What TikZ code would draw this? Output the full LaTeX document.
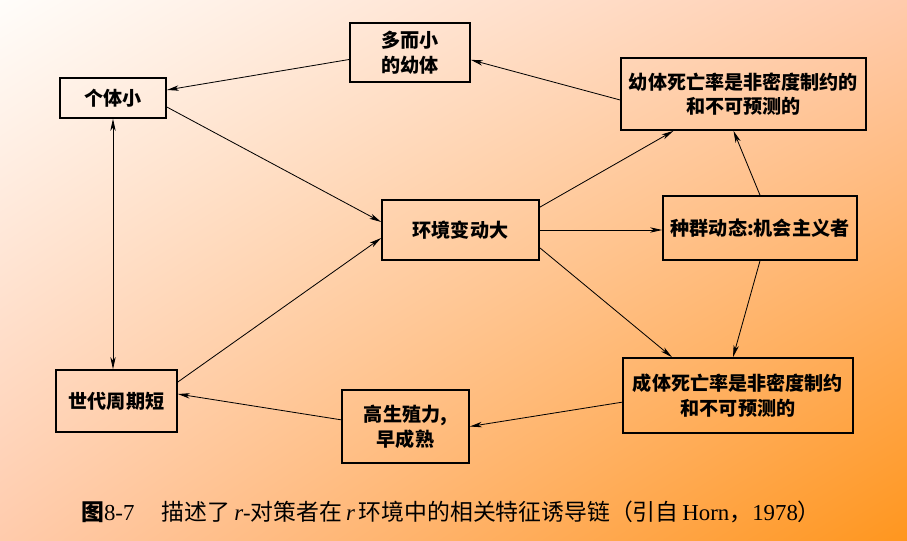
\documentclass[tikz,border=0pt]{standalone}
\usepackage{fontspec}
\usepackage{tikz}
\usetikzlibrary{arrows.meta,positioning,shadings}
\setmainfont{Liberation Serif}
\newfontfamily\cjk{Noto Sans CJK SC}
\definecolor{paperWhite}{RGB}{255,253,250}
\definecolor{paperPeach}{RGB}{255,203,172}
\definecolor{paperOrange}{RGB}{255,150,30}

\begin{document}
\begin{tikzpicture}[
    x=0.03cm, y=-0.03cm,
    >={Stealth[length=3.6mm,width=1.6mm,inset=1mm]},
    box/.style={rectangle, draw, line width=1.4pt, align=center, inner sep=2pt, font=\cjk\bfseries\fontsize{16.3}{21}\selectfont},
    link/.style={->, line width=0.7pt},
    caption/.style={font=\fontsize{19.5}{22}\selectfont}
  ]
  % background
  \shade[upper left=paperWhite, upper right=paperPeach, lower left=paperPeach, lower right=paperOrange] (0,0) rectangle (907,541);
  \useasboundingbox (0,0) rectangle (907,541);

  \node[box, minimum width=3.6cm, minimum height=1.77cm] (smallmany) at (410,52.5) {多而小\\的幼体};
  \node[box, minimum width=3.18cm, minimum height=1.2cm] (smallbody) at (113,98) {个体小};
  \node[box, minimum width=7.35cm, minimum height=2.16cm] (juvmort) at (743.5,94) {幼体死亡率是非密度制约的\\和不可预测的};
  \node[box, minimum width=4.71cm, minimum height=1.8cm] (envvar) at (460.5,230) {环境变动大};
  \node[box, minimum width=5.82cm, minimum height=1.92cm] (popdyn) at (760,228) {种群动态:机会主义者};
  \node[box, minimum width=3.63cm, minimum height=1.86cm] (shortgen) at (116.5,401) {世代周期短};
  \node[box, minimum width=3.81cm, minimum height=2.19cm] (highfert) at (405.5,426.5) {高生殖力,\\早成熟};
  \node[box, minimum width=6.9cm, minimum height=2.25cm] (adultmort) at (738,395.5) {成体死亡率是非密度制约\\和不可预测的};

  \draw[link] ([yshift=-0.21cm]smallmany.west) -- ([yshift=0.24cm]smallbody.east);
  \draw[link] ([yshift=-0.18cm]juvmort.west) -- ([yshift=-0.22cm]smallmany.east);
  \draw[link] ([yshift=-0.27cm]smallbody.east) -- ([yshift=0.24cm]envvar.west);
  \draw[link, <->] (smallbody.south) -- (smallbody.south |- shortgen.north);
  \draw[link] ([yshift=0.57cm]shortgen.east) -- ([yshift=-0.24cm]envvar.west);
  \draw[link] ([yshift=-0.24cm]envvar.north east) -- ([xshift=-2.1cm]juvmort.south);
  \draw[link] (envvar.east) -- (envvar.east -| popdyn.west);
  \draw[link] ([yshift=0.39cm]envvar.south east) -- ([xshift=-1.98cm]adultmort.north);
  \draw[link] (popdyn.north) -- ([xshift=-0.3cm]juvmort.south);
  \draw[link] (popdyn.south) -- ([xshift=-0.15cm]adultmort.north);
  \draw[link] ([yshift=-0.2cm]adultmort.west) -- (highfert.east);
  \draw[link] ([yshift=0.2cm]highfert.west) -- ([yshift=0.21cm]shortgen.east);

  \node[caption] (figcap) at (451,512) {{\cjk\bfseries 图}8-7\hspace{1.2em}{\cjk 描述了}\,\textit{r}-{\cjk 对策者在}\,\textit{r}\,{\cjk 环境中的相关特征诱导链（引自}\,Horn{\cjk ，}1978{\cjk ）}};
\end{tikzpicture}
\end{document}
